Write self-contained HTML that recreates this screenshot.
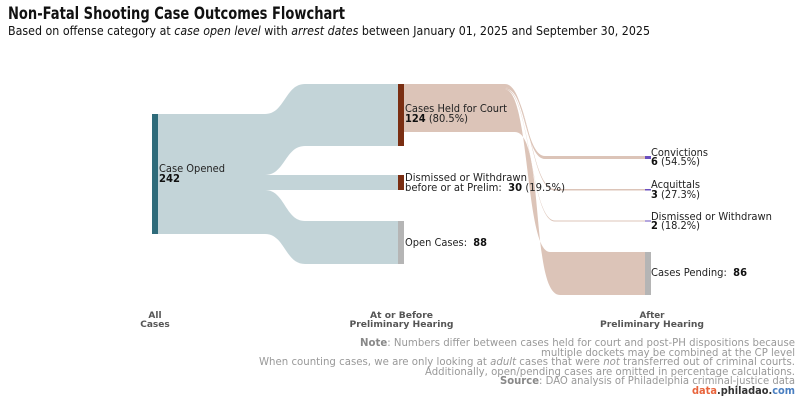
<!DOCTYPE html>
<html><head><meta charset="utf-8"><style>
body{margin:0;background:#fff;}
svg{display:block;font-family:"DejaVu Sans","Liberation Sans",sans-serif;}
</style></head><body>
<svg width="800" height="400" viewBox="0 0 800 400" xmlns="http://www.w3.org/2000/svg">
<text x="8" y="19" font-size="17" font-weight="bold" fill="#111" textLength="337" lengthAdjust="spacingAndGlyphs">Non-Fatal Shooting Case Outcomes Flowchart</text>
<text x="8" y="35" font-size="12" fill="#111" textLength="642" lengthAdjust="spacingAndGlyphs">Based on offense category at <tspan font-style="italic">case open level</tspan> with <tspan font-style="italic">arrest dates</tspan> between January 01, 2025 and September 30, 2025</text>

<g fill="#c3d4d8">
<path d="M158,114 L265,114 C285,114 285,84 305,84 L398,84 L398,146 L305,146 C285,146 285,175 265,175 L158,175 Z"/>
<path d="M158,175 L398,175 L398,190 L158,190 Z"/>
<path d="M158,190 L265,190 C285,190 285,221 305,221 L398,221 L398,264 L305,264 C285,264 285,234 265,234 L158,234 Z"/>
</g>
<g fill="#dcc4b8">
<path d="M404,84 L505,84 C525,84 525,156 545,156 L645,156 L645,159 L545,159 C525,159 525,87 505,87 L404,87 Z"/>
<path d="M404,87 L505,87 C530,87 530,189 555,189 L645,189 L645,190.5 L555,190.5 C530,190.5 530,88.5 505,88.5 L404,88.5 Z"/>
<path d="M404,88.5 L505,88.5 C530,88.5 530,220.5 555,220.5 L645,220.5 L645,221.5 L555,221.5 C530,221.5 530,89.5 505,89.5 L404,89.5 Z"/>
<path d="M404,89.5 L505,89.5 C530,89.5 525,252 550,252 L645,252 L645,295 L560,295 C530,295 545,132 515,132 L404,132 Z"/>
</g>
<rect x="152" y="114" width="6" height="120" fill="#2e6b7a"/>
<rect x="398" y="84" width="6" height="62" fill="#7a2e12"/>
<rect x="398" y="175" width="6" height="15" fill="#7a2e12"/>
<rect x="398" y="221" width="6" height="43" fill="#b5b5b5"/>
<rect x="645" y="156" width="6" height="3" fill="#6a4fbf"/>
<rect x="645" y="189" width="6" height="1.5" fill="#6a4fbf"/>
<rect x="645" y="220.5" width="6" height="1" fill="#6a4fbf"/>
<rect x="645" y="252" width="6" height="43" fill="#b5b5b5"/>

<g font-size="10.8" fill="#222">
<text x="159" y="172" textLength="66" lengthAdjust="spacingAndGlyphs">Case Opened</text>
<text x="159" y="182" font-weight="bold" fill="#111" textLength="21" lengthAdjust="spacingAndGlyphs">242</text>
<text x="405" y="112" textLength="102" lengthAdjust="spacingAndGlyphs">Cases Held for Court</text>
<text x="405" y="122" textLength="63" lengthAdjust="spacingAndGlyphs"><tspan font-weight="bold" fill="#111">124</tspan> (80.5%)</text>
<text x="405" y="181" textLength="122" lengthAdjust="spacingAndGlyphs">Dismissed or Withdrawn</text>
<text x="405" y="191" textLength="160" lengthAdjust="spacingAndGlyphs">before or at Prelim:&#160; <tspan font-weight="bold" fill="#111">30</tspan> (19.5%)</text>
<text x="405" y="246" textLength="82" lengthAdjust="spacingAndGlyphs">Open Cases:&#160; <tspan font-weight="bold" fill="#111">88</tspan></text>
<text x="651" y="156" textLength="57" lengthAdjust="spacingAndGlyphs">Convictions</text>
<text x="651" y="165" textLength="49" lengthAdjust="spacingAndGlyphs"><tspan font-weight="bold" fill="#111">6</tspan> (54.5%)</text>
<text x="651" y="188" textLength="49" lengthAdjust="spacingAndGlyphs">Acquittals</text>
<text x="651" y="198" textLength="49" lengthAdjust="spacingAndGlyphs"><tspan font-weight="bold" fill="#111">3</tspan> (27.3%)</text>
<text x="651" y="220" textLength="121" lengthAdjust="spacingAndGlyphs">Dismissed or Withdrawn</text>
<text x="651" y="229" textLength="49" lengthAdjust="spacingAndGlyphs"><tspan font-weight="bold" fill="#111">2</tspan> (18.2%)</text>
<text x="651" y="276" textLength="96" lengthAdjust="spacingAndGlyphs">Cases Pending:&#160; <tspan font-weight="bold" fill="#111">86</tspan></text>
</g>

<g font-size="9" font-weight="bold" fill="#555" text-anchor="middle">
<text x="155" y="318">All</text>
<text x="155" y="327">Cases</text>
<text x="401.5" y="318" textLength="63" lengthAdjust="spacingAndGlyphs">At or Before</text>
<text x="401.5" y="327" textLength="104" lengthAdjust="spacingAndGlyphs">Preliminary Hearing</text>
<text x="652" y="318" textLength="25" lengthAdjust="spacingAndGlyphs">After</text>
<text x="652" y="327" textLength="104" lengthAdjust="spacingAndGlyphs">Preliminary Hearing</text>
</g>

<g font-size="10.5" fill="#999" text-anchor="end">
<text x="795" y="346" textLength="435" lengthAdjust="spacingAndGlyphs"><tspan font-weight="bold" fill="#888">Note</tspan>: Numbers differ between cases held for court and post-PH dispositions because</text>
<text x="795" y="356" textLength="254" lengthAdjust="spacingAndGlyphs">multiple dockets may be combined at the CP level</text>
<text x="795" y="365" textLength="536" lengthAdjust="spacingAndGlyphs">When counting cases, we are only looking at <tspan font-style="italic">adult</tspan> cases that were <tspan font-style="italic">not</tspan> transferred out of criminal courts.</text>
<text x="795" y="375" textLength="370" lengthAdjust="spacingAndGlyphs">Additionally, open/pending cases are omitted in percentage calculations.</text>
<text x="795" y="384" textLength="295" lengthAdjust="spacingAndGlyphs"><tspan font-weight="bold" fill="#888">Source</tspan>: DAO analysis of Philadelphia criminal-justice data</text>
<text x="795" y="394" font-weight="bold" textLength="103" lengthAdjust="spacingAndGlyphs"><tspan fill="#e8643c">data</tspan><tspan fill="#333">.philadao.</tspan><tspan fill="#4a7fc1">com</tspan></text>
</g>
</svg>
</body></html>
